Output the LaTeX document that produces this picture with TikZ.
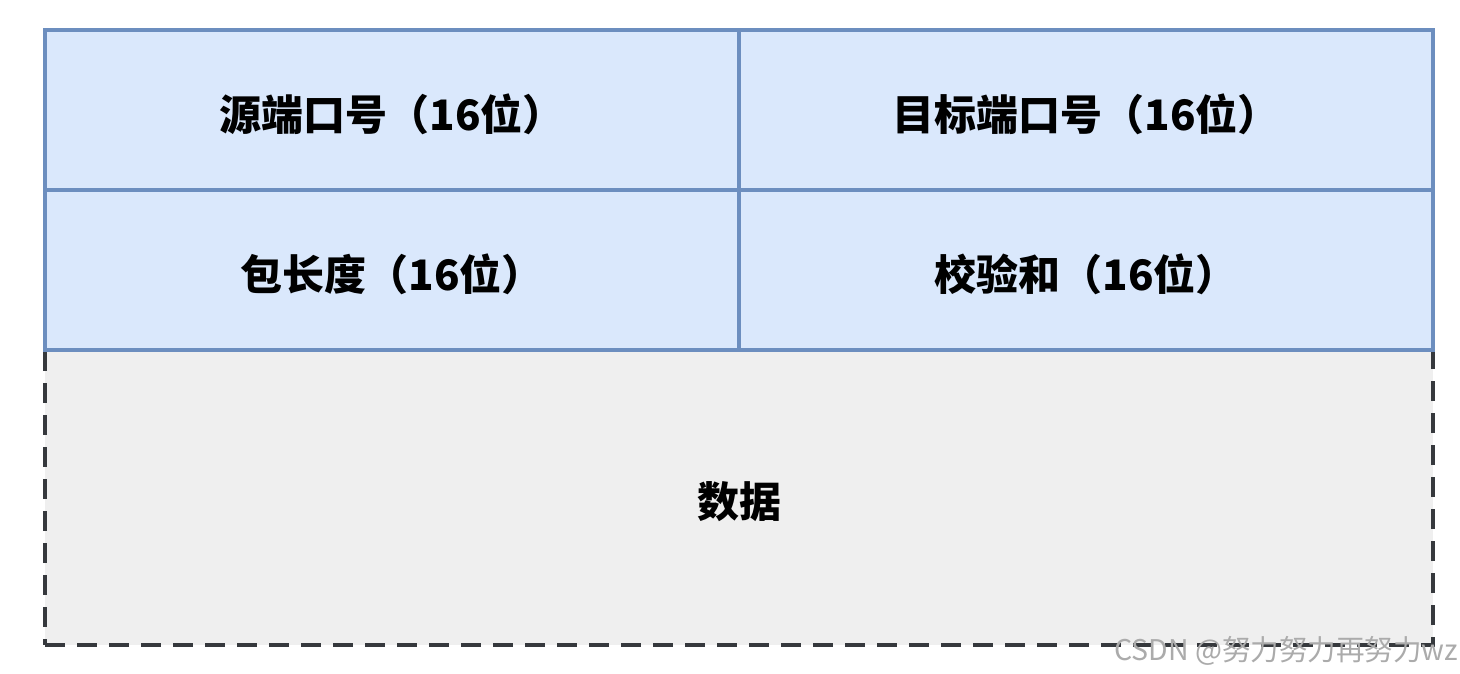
\documentclass[tikz,border=0pt]{standalone}
\usepackage{fontspec}
\newfontfamily\cjk{Noto Sans CJK SC}
\usetikzlibrary{positioning}
\definecolor{cellfill}{HTML}{DAE8FC}
\definecolor{cellline}{HTML}{6C8EBF}
\definecolor{datafill}{HTML}{EFEFEF}
\definecolor{dataline}{HTML}{36393D}
\definecolor{wmark}{HTML}{ABABAB}
\newcommand{\lowtxt}[1]{\raisebox{-4pt}[\height][\depth]{#1}}
\tikzset{
  cell/.style={draw=cellline, fill=cellfill, line width=3.5pt, rectangle, inner sep=0pt,
    minimum width=694pt, minimum height=160pt, font=\cjk\bfseries\fontsize{42}{48}\selectfont, text=black},
  databox/.style={draw=dataline, fill=datafill, line width=4pt, rectangle, inner sep=0pt,
    dash pattern=on 20pt off 12pt,
    minimum width=1388pt, minimum height=295pt, font=\cjk\bfseries\fontsize{42}{48}\selectfont, text=black},
  wm/.style={font=\cjk\fontsize{28.5}{31}\selectfont, text=wmark, inner sep=0pt}
}
\begin{document}
\begin{tikzpicture}[x=1pt,y=-1pt]
\useasboundingbox[fill=white] (0,0) rectangle (1460,674);
\node[databox] (data) at (739,497.5) {\lowtxt{数据}};
\node[cell] (src) at (392,110) {\lowtxt{源端口号（16位）}};
\node[cell] (dst) at (1086,110) {\lowtxt{目标端口号（16位）}};
\node[cell] (len) at (392,270) {\lowtxt{包长度（16位）}};
\node[cell] (chk) at (1086,270) {\lowtxt{校验和（16位）}};
\node[wm, anchor=east] (wmk) at (1458,651) {CSDN @努力努力再努力wz};
\end{tikzpicture}
\end{document}
